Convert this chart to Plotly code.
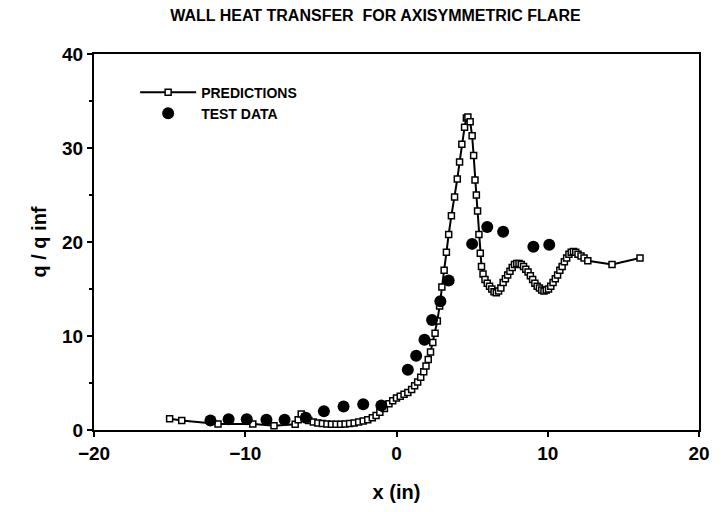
import plotly.graph_objects as go

# Predictions (line with open markers)
pred_x = [-15.0, -14.2, -11.8, -9.5, -8.1, -6.7, -6.5, -6.3, -6.05, -5.8, -5.5, -5.2, -4.9, -4.6,
          -4.3, -4.0, -3.7, -3.4, -3.1, -2.8, -2.5, -2.2, -1.9, -1.6, -1.35, -1.1, -0.8, -0.5,
          -0.25, 0.0, 0.25, 0.5, 0.75, 1.0, 1.2, 1.4, 1.6, 1.8, 1.95, 2.1, 2.25, 2.4, 2.55, 2.7,
          2.85, 3.0, 3.15, 3.3, 3.45, 3.63, 3.84, 4.02, 4.17, 4.32, 4.5, 4.62, 4.72, 4.87, 5.0,
          5.1, 5.19, 5.28, 5.36, 5.45, 5.54, 5.62, 5.72, 5.85, 6.0, 6.15, 6.3, 6.45, 6.6, 6.75,
          6.9, 7.05, 7.2, 7.35, 7.5, 7.65, 7.8, 7.95, 8.1, 8.25, 8.4, 8.55, 8.7, 8.85, 9.0, 9.15,
          9.3, 9.45, 9.6, 9.75, 9.9, 10.05, 10.2, 10.35, 10.5, 10.65, 10.8, 10.95, 11.1, 11.25,
          11.4, 11.55, 11.7, 11.85, 12.0, 12.2, 12.4, 12.65, 14.25, 16.1]
pred_y = [1.2, 1.0, 0.65, 0.65, 0.45, 0.6, 1.1, 1.7, 1.4, 1.0, 0.85, 0.75, 0.7, 0.65,
          0.6, 0.6, 0.62, 0.65, 0.7, 0.75, 0.85, 0.95, 1.1, 1.3, 1.55, 1.9, 2.3, 2.8,
          3.1, 3.4, 3.6, 3.8, 4.0, 4.3, 4.7, 5.1, 5.6, 6.2, 6.8, 7.5, 8.3, 9.3, 10.3, 11.6,
          13.2, 15.2, 17.0, 18.9, 20.8, 22.8, 24.8, 26.7, 28.5, 30.4, 32.2, 33.2, 33.3, 32.8, 31.3,
          29.2, 26.6, 25.0, 23.3, 20.8, 18.8, 17.4, 16.6, 16.0, 15.6, 15.3, 15.0, 14.7, 14.6, 14.8,
          15.1, 15.7, 16.1, 16.5, 16.9, 17.3, 17.6, 17.7, 17.7, 17.6, 17.4, 17.1, 16.8, 16.4, 16.0,
          15.6, 15.3, 15.1, 14.9, 14.8, 14.9, 15.0, 15.3, 15.7, 16.1, 16.5, 17.0, 17.4, 17.9, 18.3,
          18.7, 18.9, 19.0, 18.9, 18.7, 18.5, 18.3, 18.0, 17.6, 18.3]

# Test data (filled circles)
test_x = [-12.3, -11.1, -9.9, -8.6, -7.4, -6.0, -4.8, -3.5, -2.2, -1.0, 0.75, 1.3, 1.85,
          2.35, 2.9, 3.45, 5.0, 6.0, 7.05, 9.05, 10.1]
test_y = [1.0, 1.15, 1.15, 1.1, 1.1, 1.3, 2.0, 2.5, 2.75, 2.6, 6.4, 7.9, 9.6,
          11.7, 13.7, 15.9, 19.8, 21.6, 21.1, 19.5, 19.7]

x_ticks = [-20, -10, 0, 10, 20]
y_ticks = [0, 10, 20, 30, 40]

FONT = "Liberation Sans, Arial, sans-serif"

fig = go.Figure()
fig.add_trace(go.Scatter(
    x=pred_x, y=pred_y, mode="lines+markers", name="PREDICTIONS",
    line=dict(color="black", width=2),
    marker=dict(symbol="square", size=6, color="white", line=dict(color="black", width=1.5)),
))
fig.add_trace(go.Scatter(
    x=test_x, y=test_y, mode="markers", name="TEST DATA",
    marker=dict(symbol="circle", size=12, color="black"),
))

axis_common = dict(
    showgrid=False, zeroline=False, showline=True, linecolor="black", linewidth=2,
    mirror=True, ticks="outside", tickcolor="black", ticklen=5, tickwidth=1.5,
    tickfont=dict(family=FONT, size=19, color="black", weight="bold"),
)

fig.update_layout(
    width=722, height=512,
    margin=dict(l=94, r=14, t=54, b=81),
    paper_bgcolor="white", plot_bgcolor="white",
    title=dict(text="WALL HEAT TRANSFER  FOR AXISYMMETRIC FLARE",
               x=0.52, xanchor="center", y=0.97, yanchor="middle",
               font=dict(family=FONT, size=16, color="black", weight="bold")),
    xaxis=dict(range=[-20, 20], tickvals=x_ticks,
               title=dict(text="x (in)", standoff=22,
                          font=dict(family=FONT, size=20, color="black", weight="bold")),
               **axis_common),
    yaxis=dict(range=[0, 40], tickvals=y_ticks,
               minor=dict(ticks="outside", tickvals=[5, 15, 25, 35], ticklen=3, tickcolor="black"),
               title=dict(text="q / q inf", standoff=10,
                          font=dict(family=FONT, size=20, color="black", weight="bold")),
               **axis_common),
    legend=dict(x=0.068, y=0.94, xanchor="left", yanchor="top",
                bgcolor="rgba(0,0,0,0)", tracegroupgap=0, itemwidth=56,
                font=dict(family=FONT, size=14, color="black", weight="bold")),
    showlegend=True,
)

fig.write_html("out.html")
